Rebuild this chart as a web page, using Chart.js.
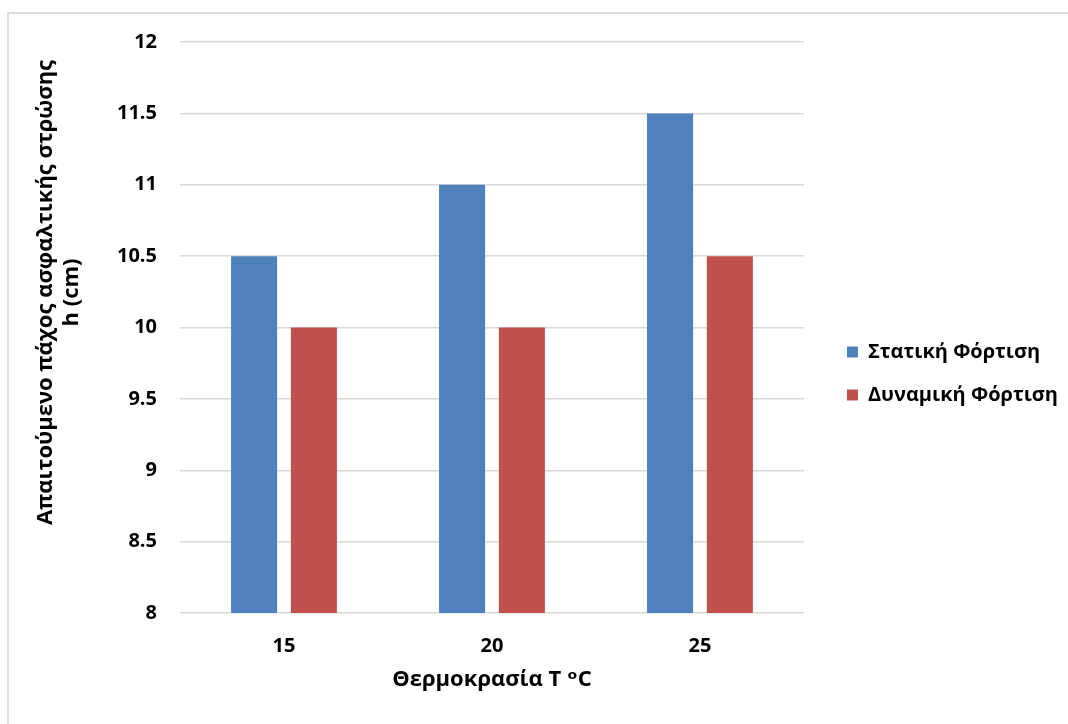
<!DOCTYPE html>
<html>
<head>
<meta charset="utf-8">
<script src="https://cdn.jsdelivr.net/npm/chart.js@4/dist/chart.umd.min.js"></script>
<style>
  html, body { margin: 0; padding: 0; background: #fff; }
  body { width: 1068px; height: 724px; position: relative; overflow: hidden; }
  #frame {
    position: absolute; left: 7px; top: 12px; right: -10px; bottom: -10px;
    border-left: 2px solid #dcdcdc; border-top: 2px solid #dcdcdc;
  }
  #wrap { position: absolute; left: 0; top: 0; width: 1068px; height: 724px; }
</style>
</head>
<body>
<div id="frame"></div>
<div id="wrap"><canvas id="heightChart" width="1068" height="724"></canvas></div>
<script>
// temperatures on the x axis, required thickness per load type
const temperatures = ["15", "20", "25"];
const staticLoad = [10.5, 11, 11.5];
const dynamicLoad = [10, 10, 10.5];
const seriesNames = ["Στατική Φόρτιση", "Δυναμική Φόρτιση"];
const yTitleLines = ["Απαιτούμενο πάχος ασφαλτικής στρώσης", "h (cm)"];
const xTitle = "Θερμοκρασία T \u1D52C";

const FONT = '"Open Sans", "DejaVu Sans", sans-serif';
const labelFont = { family: FONT, size: 20, weight: "bold" };

// rotated two-line title for the value axis
const yTitlePlugin = {
  id: "yTitle",
  afterDraw(chart) {
    const { ctx, chartArea } = chart;
    const cy = (chartArea.top + chartArea.bottom) / 2 - 35;
    ctx.save();
    ctx.font = "bold 22px " + FONT;
    ctx.fillStyle = "#000";
    ctx.textAlign = "center";
    ctx.textBaseline = "alphabetic";
    [52, 78].forEach((x, i) => {
      ctx.save();
      ctx.translate(x, cy);
      ctx.rotate(-Math.PI / 2);
      ctx.fillText(yTitleLines[i], 0, 0);
      ctx.restore();
    });
    ctx.restore();
  }
};

new Chart(document.getElementById("heightChart"), {
  type: "bar",
  data: {
    labels: temperatures,
    datasets: [
      { label: seriesNames[0], data: staticLoad, backgroundColor: "#4F81BD" },
      { label: seriesNames[1], data: dynamicLoad, backgroundColor: "#C0504D" }
    ]
  },
  options: {
    responsive: false,
    animation: false,
    devicePixelRatio: 1,
    categoryPercentage: 0.575,
    barPercentage: 0.77,
    layout: { padding: { top: 42, bottom: 19, left: 0, right: 0 } },
    plugins: {
      tooltip: { enabled: false },
      legend: {
        position: "right",
        align: "center",
        maxWidth: 245,
        labels: {
          boxWidth: 11,
          boxHeight: 11,
          padding: 23,
          color: "#000",
          font: labelFont
        }
      }
    },
    scales: {
      x: {
        grid: { display: false, drawTicks: false },
        border: { display: false },
        ticks: { color: "#000", padding: 21, font: labelFont },
        title: {
          display: true,
          text: xTitle,
          color: "#000",
          padding: { top: 0, bottom: 12 },
          font: { family: FONT, size: 22, weight: "bold" }
        },
        afterFit(scale) { scale.height = 92; }
      },
      y: {
        min: 8,
        max: 12,
        grid: { color: "#d9d9d9", lineWidth: 1.5, drawTicks: false },
        border: { display: false },
        ticks: {
          stepSize: 0.5,
          padding: 23,
          color: "#000",
          font: labelFont,
          callback: v => String(v)
        },
        afterFit(scale) { scale.width = 180; }
      },
      // empty spacer between the plot and the legend
      gap: {
        type: "linear",
        position: "right",
        grid: { display: false, drawTicks: false },
        border: { display: false },
        ticks: { display: false },
        afterFit(scale) { scale.width = 20; }
      }
    }
  },
  plugins: [yTitlePlugin]
});
</script>
</body>
</html>
